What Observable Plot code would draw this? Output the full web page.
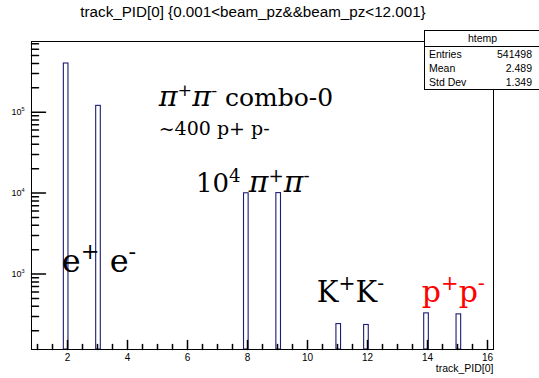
<!DOCTYPE html>
<html><head><meta charset="utf-8">
<script src="https://cdn.jsdelivr.net/npm/d3@7"></script>
<script src="https://cdn.jsdelivr.net/npm/@observablehq/plot@0.6"></script>
<style>
body{margin:0;background:#fff;}
#wrap{position:relative;width:539px;height:378px;font-family:"Liberation Sans",Arial,sans-serif;overflow:hidden;}
#chart{position:absolute;left:0;top:0;}
#title{position:absolute;left:0;top:3px;width:506px;text-align:center;font-size:15.2px;color:#000;white-space:nowrap;}
#stats{position:absolute;left:424px;top:30px;width:130px;height:58px;border:1px solid #000;background:#fff;font-size:10.5px;color:#000;}
#stats .hd{height:15px;line-height:15px;border-bottom:1px solid #000;text-align:center;width:115px;}
#stats .row{position:relative;height:14px;line-height:14px;}
#stats .row .k{position:absolute;left:4px;}
#stats .row .v{position:absolute;right:23px;}
</style>
</head><body>
<div id="wrap">
  <div id="chart"></div>
  <div id="title"></div>
  <div id="stats"></div>
</div>
<script>
// ---- data ----
const titleText = "track_PID[0] {0.001<beam_pz&&beam_pz<12.001}";
const xTitle = "track_PID[0]";
const histName = "htemp";
const statNames = ["Entries", "Mean", "Std Dev"];
const statValues = ["541498", "2.489", "1.349"];
const histRange = [0.8, 16.2];
const nBins = 100;
const pidValues = [2, 3, 8, 9, 11, 12, 14, 15];
const counts = [399000, 119600, 9950, 10000, 241, 235, 327, 318];
const yRange = [117, 746000];
const xMajorTicks = [2, 4, 6, 8, 10, 12, 14, 16];
const yMajorTicks = [1e3, 1e4, 1e5];
const noteTexts = ["π^+π^- combo-0", "~400 p+ p-", "10^4 π^+π^-", "e^+ e^-", "K^+K^-", "p^+p^-"];
const noteX = [5.04, 5.04, 6.28, 1.81, 10.31, 13.81];
const noteY = [118600, 52000, 10280, 1060, 451, 451];

// ---- derived ----
const binW = (histRange[1] - histRange[0]) / nBins;
const bars = pidValues.map((v, i) => {
  const b = Math.floor((v - histRange[0]) / binW);
  return {x1: histRange[0] + b * binW, x2: histRange[0] + (b + 1) * binW, y: counts[i]};
});
const xMinorTicks = d3.range(2, 33).map(k => k / 2).filter(v => v >= histRange[0] && v <= histRange[1] && !xMajorTicks.includes(v));
const yMinorTicks = [];
for (let e = 2; e <= 5; e++) for (let m = 2; m <= 9; m++) {
  const v = m * Math.pow(10, e);
  if (v > yRange[0] && v < yRange[1]) yMinorTicks.push(v);
}
const notes = noteTexts.map((t, i) => ({t, x: noteX[i], y: noteY[i], i}));
const noteSize = [25, 19, 26, 32, 29, 30];
const noteColor = ["#000", "#000", "#000", "#000", "#000", "#ff0000"];

const tickShape = {draw(ctx, l) { ctx.moveTo(0, 0); ctx.lineTo(0, -l); }};
const barColor = "#1c1c74";
const serif = "'DejaVu Serif',serif";

const chart = Plot.plot({
  width: 539, height: 378,
  marginLeft: 31, marginRight: 46, marginTop: 41, marginBottom: 29,
  style: {fontFamily: "'Liberation Sans',Arial,sans-serif", fontSize: "10px", background: "transparent", overflow: "visible"},
  x: {domain: histRange, axis: null},
  y: {type: "log", domain: yRange, axis: null},
  marks: [
    Plot.rect(bars, {x1: "x1", x2: "x2", y1: yRange[0], y2: "y", fill: "white", stroke: barColor, strokeWidth: 1.1}),
    Plot.vector(xMajorTicks, {x: d => d, y: yRange[0], length: 9, anchor: "start", shape: tickShape, stroke: "#000"}),
    Plot.vector(xMinorTicks, {x: d => d, y: yRange[0], length: 5, anchor: "start", shape: tickShape, stroke: "#000"}),
    Plot.vector(yMajorTicks, {x: histRange[0], y: d => d, length: 14, rotate: 90, anchor: "start", shape: tickShape, stroke: "#000"}),
    Plot.vector(yMinorTicks, {x: histRange[0], y: d => d, length: 7, rotate: 90, anchor: "start", shape: tickShape, stroke: "#000"}),
    Plot.frame({stroke: "#000"}),
    Plot.text(xMajorTicks, {x: d => d, y: yRange[0], text: d => String(d), lineAnchor: "top", dy: 4, fontSize: 10, fill: "#000"}),
    Plot.text(yMajorTicks, {x: histRange[0], y: d => d, text: d => "10^" + Math.round(Math.log10(d)), textAnchor: "end", dx: -7, fontSize: 9, fill: "#000", className: "yt"}),
    Plot.text([xTitle], {frameAnchor: "bottom-right", text: d => d, textAnchor: "end", dy: 22, fontSize: 10.5, fill: "#000"}),
    Plot.text(notes, {x: "x", y: "y", text: "t", textAnchor: "start", lineAnchor: "bottom", fontSize: d => noteSize[d.i], fill: d => noteColor[d.i], fontFamily: serif, className: "note"})
  ]
});
document.getElementById("chart").appendChild(chart);
document.getElementById("title").textContent = titleText;

// superscripts (and italic pi)
function supify(sel, ratio, shift) {
  chart.querySelectorAll(sel + " text").forEach(el => {
    const s = el.textContent;
    if (!s.includes("^") && !s.includes("π")) return;
    const fs = parseFloat(el.getAttribute("font-size") || getComputedStyle(el).fontSize);
    while (el.firstChild) el.removeChild(el.firstChild);
    const parts = s.split(/(\^.|π)/);
    parts.forEach(p => {
      if (!p) return;
      const ts = document.createElementNS("http://www.w3.org/2000/svg", "tspan");
      if (p[0] === "^") {
        ts.textContent = p.slice(1);
        ts.setAttribute("font-size", fs * ratio);
        ts.setAttribute("baseline-shift", fs * shift);
      } else if (p === "π") {
        ts.textContent = p;
        ts.setAttribute("font-style", "italic");
        ts.setAttribute("font-size", fs * 1.15);
      } else ts.textContent = p;
      el.appendChild(ts);
    });
  });
}
supify(".note", 0.7, 0.4);
supify(".yt", 0.62, 0.45);

// stats box
const st = document.getElementById("stats");
const hd = document.createElement("div"); hd.className = "hd"; hd.textContent = histName; st.appendChild(hd);
statNames.forEach((n, i) => {
  const r = document.createElement("div"); r.className = "row";
  const k = document.createElement("span"); k.className = "k"; k.textContent = n;
  const v = document.createElement("span"); v.className = "v"; v.textContent = statValues[i];
  r.appendChild(k); r.appendChild(v); st.appendChild(r);
});
</script>
</body></html>
